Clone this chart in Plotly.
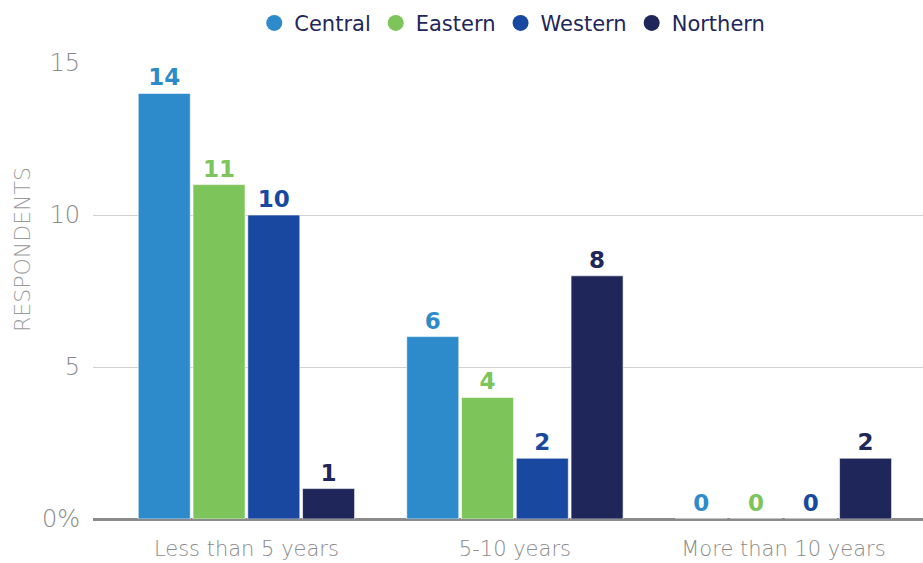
import plotly.graph_objects as go

categories = ["Less than 5 years", "5-10 years", "More than 10 years"]
regions = ["Central", "Eastern", "Western", "Northern"]
central = [14, 6, 0]
eastern = [11, 4, 0]
western = [10, 2, 0]
northern = [1, 8, 2]
y_ticks = [0, 5, 10, 15]
y_tick_labels = ["0%", "5", "10", "15"]

colors = ["#2e8bcb", "#7dc45a", "#1848a0", "#1f2659"]
series = [central, eastern, western, northern]

LIGHT = "DejaVu Sans"

fig = go.Figure()
for name, vals, col in zip(regions, series, colors):
    fig.add_trace(go.Bar(
        x=categories, y=vals, name=name, showlegend=False,
        marker=dict(color=col, line=dict(color="rgba(255,255,255,0.6)", width=1)),
        text=[str(v) for v in vals], textposition="outside",
        textfont=dict(family="DejaVu Sans", size=23, color=col, weight=900),
        cliponaxis=False,
    ))
    # circle swatch for the legend
    fig.add_trace(go.Scatter(
        x=[None], y=[None], mode="markers", name=name,
        marker=dict(symbol="circle", size=22, color=col),
    ))

plot_w, plot_h = 830, 456
fig.add_annotation(
    text="RESPONDENTS", xref="paper", yref="paper",
    x=(22 - 93) / plot_w, y=(519 - 250) / plot_h,
    xanchor="center", yanchor="middle",
    textangle=-90, showarrow=False,
    font=dict(family=LIGHT, size=22, color="#9a9a9a", weight=200),
)

fig.update_layout(
    width=923, height=563,
    margin=dict(l=93, r=0, t=63, b=44),
    plot_bgcolor="white", paper_bgcolor="white",
    barmode="group", bargap=0.184, bargroupgap=0.05,
    legend=dict(
        orientation="h", x=0.555, xanchor="center", y=0.995, yanchor="top",
        xref="container", yref="container",
        font=dict(family=LIGHT, size=21, color="#1f2659"),
        itemsizing="trace", itemwidth=30, tracegroupgap=0,
    ),
    xaxis=dict(
        range=[-0.5714, 2.5199], showgrid=False, ticks="",
        tickfont=dict(family=LIGHT, size=21, color="#8a8a8a", weight=200),
        showline=False, zeroline=False, ticklabelstandoff=15,
    ),
    yaxis=dict(
        range=[0, 15], tickvals=y_ticks, ticktext=y_tick_labels,
        tickfont=dict(family=LIGHT, size=24, color="#8a8a8a", weight=200),
        showgrid=True, gridcolor="#d0d0d0", gridwidth=1,
        zeroline=True, zerolinecolor="#8a8a8a", zerolinewidth=3,
        ticklabelstandoff=12,
    ),
)

fig.write_html("out.html")
